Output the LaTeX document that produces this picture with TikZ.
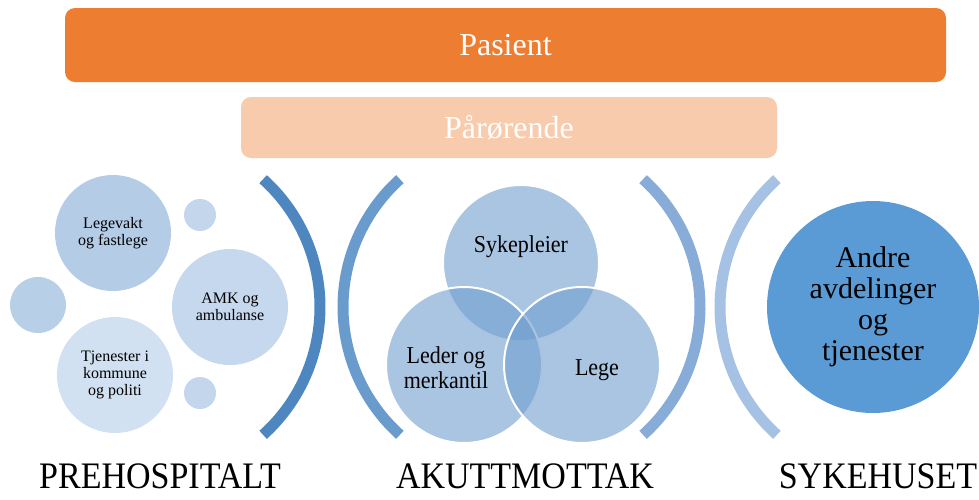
\documentclass[tikz,border=0pt]{standalone}
\usepackage{fontspec}
\setmainfont{Liberation Serif}
\usepackage{xcolor}
\usepackage{tikz}
\usetikzlibrary{positioning}

\definecolor{pasientfarge}{HTML}{ED7D31}
\definecolor{paarorfarge}{HTML}{F8CBAD}
\definecolor{legevaktfarge}{HTML}{B4CCE6}
\definecolor{amkfarge}{HTML}{C5D8EE}
\definecolor{tjenfarge}{HTML}{D2E1F1}
\definecolor{litenfarge}{HTML}{C3D6EC}
\definecolor{venstrefarge}{HTML}{B8CFE8}
\definecolor{bueA}{HTML}{4E87C0}
\definecolor{bueB}{HTML}{699BCD}
\definecolor{bueC}{HTML}{87ACD8}
\definecolor{bueD}{HTML}{A5C2E4}
\definecolor{vennfarge}{HTML}{709ECF}
\definecolor{andrefarge}{HTML}{5B9BD5}

\begin{document}
\begin{tikzpicture}[x=1pt,y=-1pt]

\tikzstyle{barre}=[rectangle, rounded corners=10pt, text=white, font=\fontsize{32}{36}\selectfont]
\tikzstyle{rond}=[circle, inner sep=0pt, align=center, font=\fontsize{16}{17}\selectfont]
\tikzstyle{venn}=[circle, minimum size=156pt, fill=vennfarge, fill opacity=0.6, draw=white, line width=2pt]
\tikzstyle{etikett}=[align=center, font=\fontsize{22}{22}\selectfont, yscale=1.1]
\tikzstyle{bue}=[line width=11pt]
\tikzstyle{tittel}=[font=\fontsize{34}{34}\selectfont, yscale=1.1, inner sep=1pt]

\useasboundingbox (0,0) rectangle (979,499);

%bandes du haut
\node[barre, fill=pasientfarge, minimum width=881pt, minimum height=74pt] (pasient) at (505.5,45) {Pasient};
\node[barre, fill=paarorfarge, minimum width=536pt, minimum height=61pt] (paaror) at (509,127.5) {Pårørende};

%cercles prehospitalt
\node[rond, fill=legevaktfarge, minimum size=116pt] (legevakt) at (113,233) {Legevakt\\og fastlege};
\node[rond, fill=amkfarge, minimum size=116pt] (amk) at (230,307) {AMK og\\ambulanse};
\node[rond, fill=tjenfarge, minimum size=116pt] (tjenester) at (115,375) {Tjenester i\\kommune\\og politi};
\node[rond, fill=venstrefarge, minimum size=56pt] (venstre) at (38,305) {};
\node[rond, fill=litenfarge, minimum size=32pt] (litenA) at (200,215) {};
\node[rond, fill=litenfarge, minimum size=32pt] (litenB) at (200,393) {};

%les arcs
\draw[bue, draw=bueA] (148,307) ++(-48:172) arc[start angle=-48, end angle=48, radius=172];
\draw[bue, draw=bueB] (515,307) ++(132:172) arc[start angle=132, end angle=228, radius=172];
\draw[bue, draw=bueC] (528,307) ++(-48:172) arc[start angle=-48, end angle=48, radius=172];
\draw[bue, draw=bueD] (892,307) ++(132:172) arc[start angle=132, end angle=228, radius=172];

%venn akuttmottak
\node[venn] (sykepleier) at (521,263) {};
\node[venn] (leder) at (464,365) {};
\node[venn] (lege) at (582,365) {};
\node[etikett] (tsykepleier) at (521,247) {Sykepleier};
\node[etikett, font=\fontsize{22}{23}\selectfont] (tleder) at (446,368) {Leder og\\merkantil};
\node[etikett] (tlege) at (597,370) {Lege};

%sykehuset
\node[rond, fill=andrefarge, minimum size=212pt, font=\fontsize{30}{31}\selectfont] (andre) at (873,307) {Andre\\avdelinger\\og\\tjenester};

%titres
\node[tittel] (prehospitalt) at (160,476) {PREHOSPITALT};
\node[tittel] (akuttmottak) at (525,476) {AKUTTMOTTAK};
\node[tittel] (sykehuset) at (878,476) {SYKEHUSET};
\end{tikzpicture}
\end{document}
